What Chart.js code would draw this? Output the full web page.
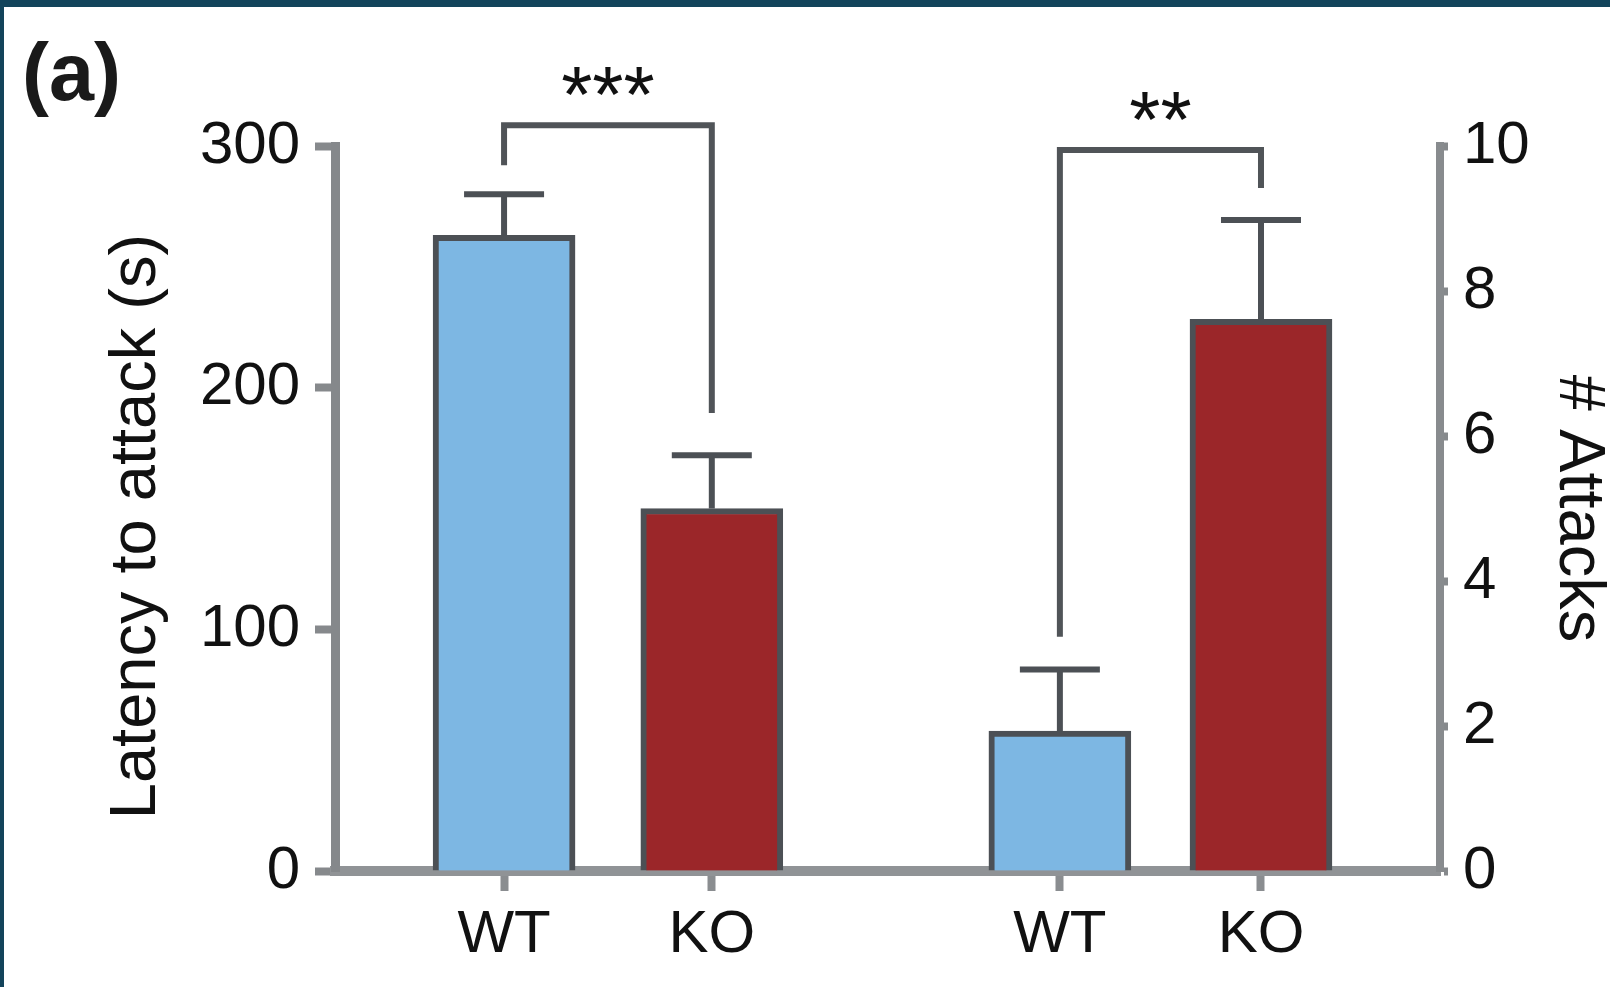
<!DOCTYPE html>
<html>
<head>
<meta charset="utf-8">
<script src="https://cdn.jsdelivr.net/npm/chart.js@4.4.1/dist/chart.umd.min.js"></script>
<style>
  html, body { margin: 0; padding: 0; background: #fff; overflow: hidden; }
  canvas { display: block; }
</style>
</head>
<body>
<canvas id="attackChart" width="1610" height="987"></canvas>
<script>
// values
const categories = ["WT", "KO", "WT", "KO"];
const latency = [263, 150];        // left axis, s
const latencyErr = [280, 172];     // top of error bar
const attacks = [1.93, 7.61];      // right axis, # attacks
const attacksErr = [2.78, 8.98];
const latencyTicks = [0, 100, 200, 300];
const attackTicks = [0, 2, 4, 6, 8, 10];
const groupPos = [1.53, 3.41, 6.56, 8.38]; // where the bars sit on the x axis (0..10)

// significance brackets: top of bracket and bottom of each leg, in axis units
const brackets = [
  { axis: "y", from: 0, to: 1, top: 308.6, legs: [292, 189.5], label: "***" },
  { axis: "y1", from: 2, to: 3, top: 9.945, legs: [3.23, 9.42], label: "**" }
];

const blue = "#7db7e3";
const red = "#9b2629";
const lineDark = "#4c5055";
const font = "'Liberation Sans', Arial, Helvetica, sans-serif";

const overlay = {
  id: "overlay",
  afterDatasetsDraw(chart) {
    const ctx = chart.ctx;
    const xs = chart.scales.x;
    ctx.save();
    ctx.strokeStyle = lineDark;
    ctx.lineCap = "butt";
    [[0, latencyErr, "y"], [1, attacksErr, "y1"]].forEach(([di, errs, axis]) => {
      const ys = chart.scales[axis];
      chart.getDatasetMeta(di).data.forEach((bar, j) => {
        const top = ys.getPixelForValue(errs[j]);
        ctx.lineWidth = 6;
        ctx.beginPath();
        ctx.moveTo(bar.x, bar.y);
        ctx.lineTo(bar.x, top);
        ctx.stroke();
        ctx.beginPath();
        ctx.moveTo(bar.x - 40, top);
        ctx.lineTo(bar.x + 40, top);
        ctx.stroke();
      });
    });

    brackets.forEach(b => {
      const ys = chart.scales[b.axis];
      const x1 = xs.getPixelForValue(groupPos[b.from]);
      const x2 = xs.getPixelForValue(groupPos[b.to]);
      const yt = ys.getPixelForValue(b.top);
      ctx.lineWidth = 6;
      ctx.strokeStyle = "#505458";
      ctx.lineJoin = "miter";
      ctx.beginPath();
      ctx.moveTo(x1, ys.getPixelForValue(b.legs[0]));
      ctx.lineTo(x1, yt);
      ctx.lineTo(x2, yt);
      ctx.lineTo(x2, ys.getPixelForValue(b.legs[1]));
      ctx.stroke();
      ctx.fillStyle = "#111";
      ctx.font = "80px " + font;
      ctx.textAlign = "center";
      ctx.textBaseline = "alphabetic";
      ctx.fillText(b.label, (x1 + x2) / 2, yt - 3);
    });
    ctx.restore();
  },
  afterDraw(chart) {
    const ctx = chart.ctx;
    ctx.save();
    ctx.fillStyle = "#13445b";
    ctx.fillRect(0, 0, chart.width, 7);
    ctx.fillRect(0, 0, 4, chart.height);
    ctx.fillStyle = "#1a1a1a";
    ctx.font = "bold 81px " + font;
    ctx.textAlign = "left";
    ctx.textBaseline = "alphabetic";
    ctx.fillText("(a)", 22, 100);
    ctx.restore();
  }
};

new Chart(document.getElementById("attackChart"), {
  type: "bar",
  data: {
    datasets: [
      {
        data: latency.map((v, i) => ({ x: groupPos[i], y: v })),
        yAxisID: "y",
        backgroundColor: [blue, red],
      },
      {
        data: attacks.map((v, i) => ({ x: groupPos[i + 2], y: v })),
        yAxisID: "y1",
        backgroundColor: [blue, red],
      }
    ]
  },
  options: {
    responsive: false,
    animation: false,
    grouped: false,
    barThickness: 142,
    borderWidth: 6,
    borderColor: lineDark,
    borderSkipped: "start",
    layout: { padding: { top: 146, left: 0, right: 0, bottom: 0 } },
    plugins: { legend: { display: false }, tooltip: { enabled: false } },
    scales: {
      x: {
        type: "linear",
        min: 0,
        max: 10,
        offset: false,
        z: 1,
        afterBuildTicks: s => { s.ticks = groupPos.map(v => ({ value: v })); },
        afterFit: s => { s.height = 116; },
        border: { color: "#909396", width: 10 },
        grid: { drawOnChartArea: false, offset: false, tickLength: 20, tickWidth: 8, tickColor: "#8a8d90" },
        ticks: {
          autoSkip: false, maxRotation: 0, padding: 8, color: "#111",
          font: { family: font, size: 60 },
          callback: (v, i) => categories[i]
        }
      },
      y: {
        position: "left",
        min: 0,
        max: 300,
        afterBuildTicks: s => { s.ticks = latencyTicks.map(v => ({ value: v })); },
        afterFit: s => { s.width = 335; },
        border: { color: "#85888b", width: 9 },
        grid: { drawOnChartArea: false, tickLength: 20, tickWidth: 8, tickColor: "#86898c" },
        ticks: { padding: 15, color: "#111", font: { family: font, size: 60 } },
        title: {
          display: true,
          text: "Latency to attack (s)  ",
          color: "#111",
          font: { family: font, size: 65, lineHeight: 1 },
          padding: { top: 105, bottom: 0 }
        }
      },
      y1: {
        position: "right",
        min: 0,
        max: 10,
        afterBuildTicks: s => { s.ticks = attackTicks.map(v => ({ value: v })); },
        afterFit: s => { s.width = 170; },
        border: { color: "#888b8e", width: 8 },
        grid: { drawOnChartArea: false, tickLength: 8, tickWidth: 8, tickColor: "#86898c" },
        ticks: { padding: 15, color: "#111", font: { family: font, size: 60 } },
        title: {
          display: true,
          text: "# Attacks",
          color: "#111",
          font: { family: font, size: 65, lineHeight: 1 },
          padding: { top: 0, bottom: 0 }
        }
      }
    }
  },
  plugins: [overlay]
});
</script>
</body>
</html>
